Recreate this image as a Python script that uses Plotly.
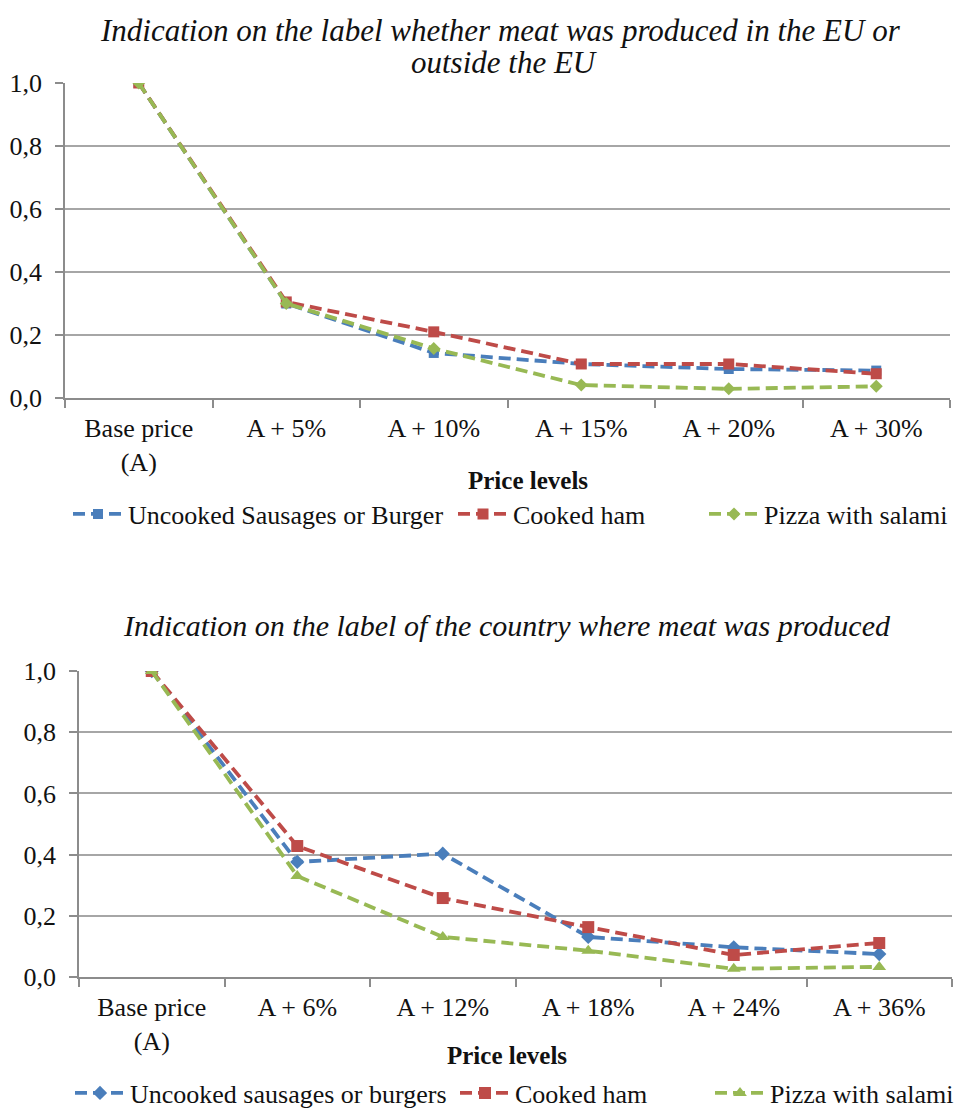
import plotly.graph_objects as go

# ---- data ----
cats_top = ["Base price<br>(A)", "A + 5%", "A + 10%", "A + 15%", "A + 20%", "A + 30%"]
top_uncooked = [1.0, 0.30, 0.143, 0.108, 0.092, 0.087]
top_ham = [1.0, 0.305, 0.21, 0.108, 0.108, 0.077]
top_pizza = [1.0, 0.30, 0.157, 0.041, 0.029, 0.037]

cats_bot = ["Base price<br>(A)", "A + 6%", "A + 12%", "A + 18%", "A + 24%", "A + 36%"]
bot_uncooked = [1.0, 0.376, 0.403, 0.131, 0.097, 0.075]
bot_ham = [1.0, 0.428, 0.258, 0.163, 0.072, 0.111]
bot_pizza = [1.0, 0.33, 0.131, 0.086, 0.027, 0.033]

yticks = [0.0, 0.2, 0.4, 0.6, 0.8, 1.0]
yticktext = ["0,0", "0,2", "0,4", "0,6", "0,8", "1,0"]

title_top_1 = "Indication on the label whether meat was produced in the EU or"
title_top_2 = "outside the EU"
title_bot = "Indication on the label of the country where meat was produced"
xtitle = "Price levels"

BLUE = "#4a7ebb"
RED = "#be4b48"
GREEN = "#98b954"
TXT = "#111111"
FONT = "Liberation Serif"
H = 1111
W = 957

fig = go.Figure()


def add(x, y, name, color, symbol, xa, ya, legend, msize, lw=None):
    fig.add_trace(go.Scatter(
        x=x, y=y, name=name, mode="lines+markers",
        line=dict(color=color, width=3.8, dash="12px,6px"),
        marker=dict(color=color, symbol=symbol, size=msize),
        xaxis=xa, yaxis=ya, legend=legend, legendwidth=lw))


add(cats_top, top_uncooked, "Uncooked Sausages or Burger", BLUE, "square", "x", "y", "legend", 10, 320)
add(cats_top, top_ham, "Cooked ham", RED, "square", "x", "y", "legend", 11, 186)
add(cats_top, top_pizza, "Pizza with salami", GREEN, "diamond", "x", "y", "legend", 10)

add(cats_bot, bot_uncooked, "Uncooked sausages or burgers", BLUE, "diamond", "x2", "y2", "legend2", 11, 320)
add(cats_bot, bot_ham, "Cooked ham", RED, "square", "x2", "y2", "legend2", 12, 190)
add(cats_bot, bot_pizza, "Pizza with salami", GREEN, "triangle-up", "x2", "y2", "legend2", 12)


def py(p):
    return 1 - p / H


def px(p):
    return p / W


tickfont = dict(family=FONT, size=26, color=TXT)
common_x = dict(type="category", range=[-0.5, 5.5], showline=True, linecolor="#8c8c8c",
                linewidth=1.5, ticks="outside", tickson="boundaries", ticklen=8,
                tickwidth=1.5, tickcolor="#8c8c8c", showgrid=False, fixedrange=True,
                automargin=False, ticklabelstandoff=6, tickfont=tickfont)
common_y = dict(range=[0, 1.0], tickvals=yticks, ticktext=yticktext, showgrid=True,
                gridcolor="#a6a6a6", gridwidth=1.5, showline=True, linecolor="#8c8c8c",
                linewidth=1.5, ticks="outside", ticklen=8, tickwidth=1.5,
                tickcolor="#8c8c8c", zeroline=False, automargin=False,
                ticklabelstandoff=8, fixedrange=True, tickfont=tickfont)

legfont = dict(family=FONT, size=26, color=TXT)
fig.update_layout(
    template="none",
    width=W, height=H,
    margin=dict(l=0, r=0, t=0, b=0, autoexpand=False),
    paper_bgcolor="white", plot_bgcolor="white",
    font=dict(family=FONT, size=26, color=TXT),
    xaxis=dict(domain=[px(65), px(950)], anchor="y", **common_x),
    yaxis=dict(domain=[py(398), py(83)], anchor="x", **common_y),
    xaxis2=dict(domain=[px(79), px(952)], anchor="y2", **common_x),
    yaxis2=dict(domain=[py(977), py(671)], anchor="x2", **common_y),
    legend=dict(orientation="h", x=px(68), xanchor="left", y=py(514), yanchor="middle",
                font=legfont, itemwidth=50, bgcolor="rgba(0,0,0,0)", borderwidth=0),
    legend2=dict(orientation="h", x=px(70), xanchor="left", y=py(1093), yanchor="middle",
                 font=legfont, itemwidth=50, bgcolor="rgba(0,0,0,0)", borderwidth=0),
    showlegend=True,
    hovermode=False,
)


def ann(text, x, y, size, bold=False, italic=False):
    t = text
    if bold:
        t = "<b>" + t + "</b>"
    if italic:
        t = "<i>" + t + "</i>"
    return dict(text=t, x=px(x), y=py(y), xref="paper", yref="paper", showarrow=False,
                font=dict(family=FONT, size=size, color=TXT), xanchor="center",
                yanchor="middle")


fig.update_layout(annotations=[
    ann(title_top_1, 500, 30, 31, italic=True),
    ann(title_top_2, 504, 62, 31, italic=True),
    ann(title_bot, 507, 625, 30, italic=True),
    ann(xtitle, 528, 481, 25, bold=True),
    ann(xtitle, 507, 1055, 25, bold=True),
])

fig.write_html(
    "out.html",
    config={"displayModeBar": False},
    post_script="document.body.style.margin='0';document.body.style.overflow='hidden';",
)
